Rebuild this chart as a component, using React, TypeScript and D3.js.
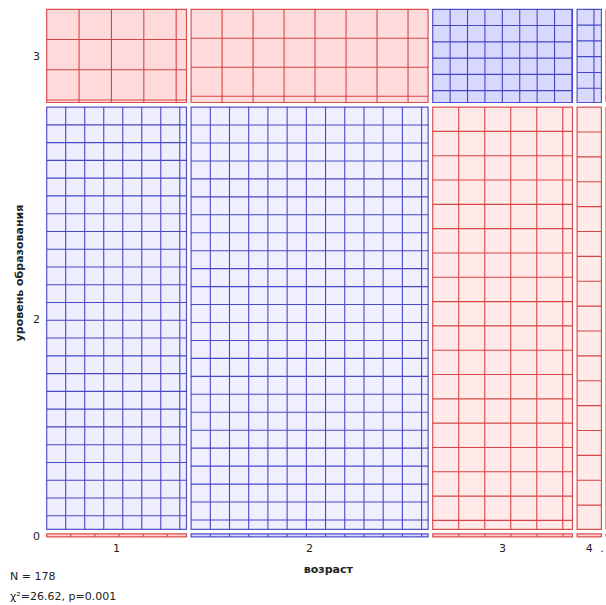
import React from 'react';
import * as d3 from 'd3';

// ---- data ----
const ageCategories = ['1', '2', '3', '4', '.'];
const eduCategories = ['3', '2', '0']; // top to bottom
// observed counts: rows = education level (3, 2, 0), columns = age
const observed = [
  [4, 7, 18, 3, 0],
  [42, 70, 28, 5, 0],
  [0, 1, 0, 0, 0],
];
// number of sieve squares drawn in each cell
const sieveSquares = [
  [13.3, 24.6, 46.0, 8.5, 0],
  [174.7, 290.2, 93.3, 15.5, 0],
  [0.75, 2.0, 0.64, 0.11, 0],
];
const xTitle = 'возраст';
const yTitle = 'уровень образования';
const statN = 'N = 178';
const statChi = 'χ²=26.62, p=0.001';

// ---- layout ----
const W = 606, H = 605;
const plotLeft = 46.7, plotRight = 606, plotTop = 9.3, plotBottom = 536.8;
const gap = 4.6;
const squareAspect = 1.07;
const font = '"DejaVu Sans", Verdana, sans-serif';

export default function App() {
  const colTotals = ageCategories.map((_, j) => d3.sum(observed, (r) => r[j]));
  const rowTotals = observed.map((r) => d3.sum(r));
  const N = d3.sum(rowTotals);

  const xUnit = d3.scaleLinear().domain([0, N])
    .range([0, plotRight - plotLeft - gap * (ageCategories.length - 1)]);
  const yUnit = d3.scaleLinear().domain([0, N])
    .range([0, plotBottom - plotTop - gap * (eduCategories.length - 1)]);

  const colCum = d3.cumsum([0, ...colTotals]);
  const rowCum = d3.cumsum([0, ...rowTotals]);
  const colX = ageCategories.map((_, j) => plotLeft + xUnit(colCum[j]) + j * gap);
  const colW = colTotals.map((c) => xUnit(c));
  const rowY = eduCategories.map((_, i) => plotTop + yUnit(rowCum[i]) + i * gap);
  const rowH = rowTotals.map((r) => yUnit(r));

  const redLine = '#d43434';
  const blueLine = '#3636bf';
  const redFill = d3.interpolateRgb('#ffffff', '#ff0000');
  const blueFill = d3.interpolateRgb('#ffffff', '#0000ff');

  const cells: React.ReactNode[] = [];
  eduCategories.forEach((_, i) => {
    ageCategories.forEach((_, j) => {
      const x0 = colX[j], w = colW[j], y0 = rowY[i], h = rowH[i];
      const x1 = x0 + w, y1 = y0 + h;
      const O = observed[i][j];
      const E = (rowTotals[i] * colTotals[j]) / N;
      const pos = O - E > 0;
      const line = pos ? blueLine : redLine;
      let lr = E > 0 ? (O > 0 ? Math.abs(Math.log(O / E)) : 1) : 0;
      lr = Math.min(lr, 1);
      const t = E > 0 ? 0.05 + 0.13 * lr : 0;
      const fill = pos ? blueFill(t) : redFill(t);
      const n = sieveSquares[i][j];
      const lines: string[] = [];
      if (n > 0 && w > 0 && h > 0) {
        const dx = Math.sqrt((w * h * squareAspect) / n);
        const dy = dx / squareAspect;
        for (let x = x0 + dx; x < x1 - 0.3; x += dx) lines.push(`M${x},${y0}V${y1}`);
        for (let y = y0 + dy; y < y1 - 0.3; y += dy) lines.push(`M${x0},${y}H${x1}`);
      }
      cells.push(
        <g key={`c${i}-${j}`}>
          {w > 0 && <rect x={x0} y={y0} width={w} height={h} fill={fill} />}
          <path d={lines.join('')} stroke={line} strokeWidth={1.1} strokeOpacity={0.9} fill="none" />
          <path d={`M${x0},${y0}H${x1}V${y1}H${x0}Z`} stroke={line} strokeWidth={1.2} strokeOpacity={0.85} fill="none" />
        </g>
      );
    });
  });

  const plotCx = (plotLeft + plotRight) / 2;
  const plotCy = (plotTop + plotBottom) / 2;

  return (
    <svg width={W} height={H} style={{ position: 'absolute', left: 0, top: 0, background: '#fff' }}
      fontFamily={font} fontSize={11}>
      {cells}
      {eduCategories.map((c, i) => (
        <text key={`yl${i}`} x={40} y={rowY[i] + rowH[i] / 2 + 4.5} textAnchor="end" fill="#222">{c}</text>
      ))}
      {ageCategories.map((c, j) => (
        <text key={`xl${j}`} x={Math.min(colX[j] + colW[j] / 2, W - 4)} y={552} textAnchor="middle" fill="#222">{c}</text>
      ))}
      <text x={plotCx + 2} y={573} textAnchor="middle" fontWeight="bold" fill="#222">{xTitle}</text>
      <text transform={`translate(23,${plotCy}) rotate(-90)`} textAnchor="middle" fontWeight="bold" fill="#222">{yTitle}</text>
      <text x={10} y={580} fill="#222">{statN}</text>
      <text x={10} y={600} fill="#222">{statChi}</text>
    </svg>
  );
}
